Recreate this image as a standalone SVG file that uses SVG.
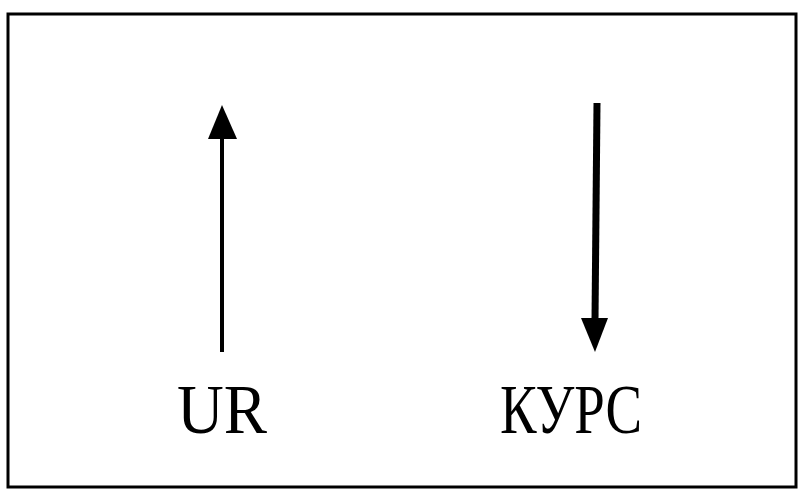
<svg xmlns="http://www.w3.org/2000/svg" width="804" height="501" viewBox="0 0 804 501">
<defs>
<style>
.lbl{font-family:"Liberation Serif","Times New Roman",serif;font-size:70px;fill:#000}
.frame{fill:none;stroke:#000;stroke-width:3}
</style>
<marker id="head" viewBox="0 0 10 10" refX="0" refY="5" markerWidth="10" markerHeight="10" markerUnits="userSpaceOnUse" orient="auto" overflow="visible">
<path d="M0,0 L10,5 L0,10 Z" fill="#000"/>
</marker>
</defs>
<rect width="804" height="501" fill="#fff"/>
<rect id="frame" class="frame" x="8" y="14" width="788" height="473"/>
<g id="connectors">
<line x1="222" y1="352" x2="222" y2="136" stroke="#000" stroke-width="4"/>
<polygon points="222,105 208,139 237,139" fill="#000"/>
<line x1="597" y1="103" x2="595" y2="320" stroke="#000" stroke-width="7"/>
<polygon points="595,352 581,318 608,318" fill="#000"/>
</g>
<g id="node-ur">
<text class="lbl" x="177" y="433" textLength="90" lengthAdjust="spacingAndGlyphs">UR</text>
</g>
<g id="node-kurs">
<text class="lbl" x="500" y="433" textLength="142" lengthAdjust="spacingAndGlyphs">КУРС</text>
</g>
</svg>
